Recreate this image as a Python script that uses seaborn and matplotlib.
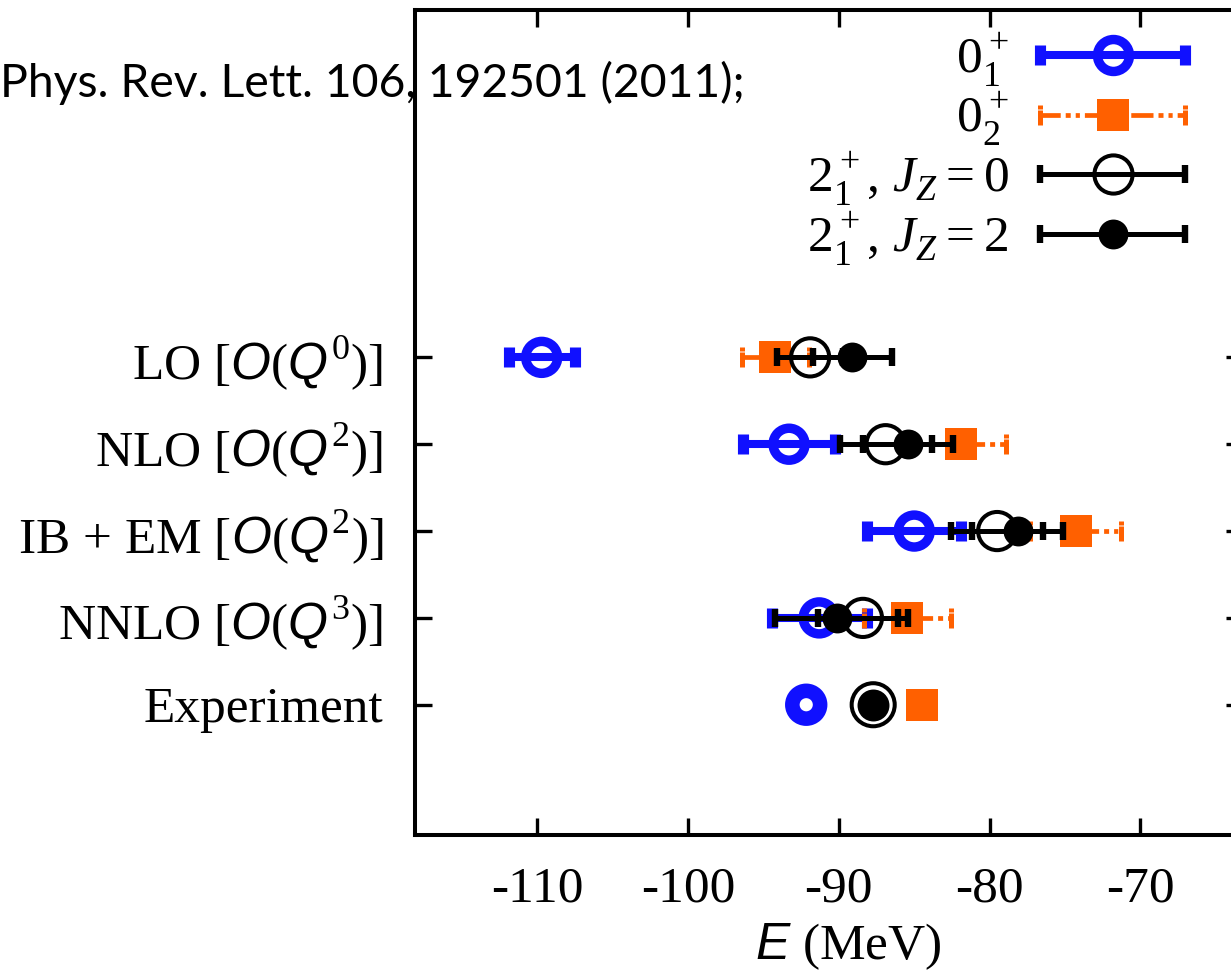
import matplotlib
matplotlib.use("Agg")
import numpy as np
import pandas as pd
import seaborn as sns
import matplotlib.pyplot as plt
from matplotlib.path import Path
from matplotlib.lines import Line2D
from matplotlib.legend_handler import HandlerBase

# ---------------- data ----------------
order_labels = ["LO [$O$($Q^0$)]", "NLO [$O$($Q^2$)]",
                "IB + EM [$O$($Q^2$)]", "NNLO [$O$($Q^3$)]"]
exp_label = "Experiment"
row_pos = [5, 4, 3, 2]
exp_pos = 1

e01 = [-109.7, -93.3, -85.0, -91.3]
e01_err = [2.2, 3.05, 3.1, 3.15]
e02 = [-94.2, -81.9, -74.3, -85.45]
e02_err = [2.2, 3.0, 3.0, 2.9]
e2j0 = [-91.9, -86.9, -79.5, -88.4]
e2j0_err = [2.2, 3.05, 3.05, 3.0]
e2j2 = [-89.1, -85.4, -78.15, -90.15]
e2j2_err = [2.6, 3.0, 3.0, 4.05]

exp_01 = [-92.16]
exp_02 = [-84.51]
exp_21 = [-87.72]

xticks = [-110, -100, -90, -80, -70]
xtick_labels = ["-110", "-100", "-90", "-80", "-70"]
legend_labels = [r"$0_1^+$", r"$0_2^+$",
                 r"$2_1^+$, $\mathcal{J}_\mathcal{Z} = 0$",
                 r"$2_1^+$, $\mathcal{J}_\mathcal{Z} = 2$"]
citation = "Phys. Rev. Lett. 106, 192501 (2011);"

# ---------------- style ----------------
sns.set_theme(style="ticks")
plt.rcParams["font.family"] = ["Liberation Serif", "DejaVu Serif"]
plt.rcParams["mathtext.fontset"] = "custom"
plt.rcParams["mathtext.rm"] = "Liberation Serif"
plt.rcParams["mathtext.it"] = "Liberation Sans:italic"
plt.rcParams["mathtext.cal"] = "Liberation Serif:italic"
plt.rcParams["mathtext.bf"] = "Liberation Serif:bold"
plt.rcParams["mathtext.sf"] = "Liberation Sans"
plt.rcParams["lines.scale_dashes"] = False
plt.rcParams["lines.solid_capstyle"] = "butt"

BLUE = "#1010ff"
ORANGE = "#ff6000"
BLACK = "#000000"
FS = 37

orange_dash = (0, (16, 3.6, 3.6, 3.6, 3.0, 3.6))
broken_cap = Path([(0, -1.0), (0, 0.45), (0, 0.62), (0, 1.0)],
                  [Path.MOVETO, Path.LINETO, Path.MOVETO, Path.LINETO])

styles = {
    "b": dict(color=BLUE, lw=5.8, ls="-", capsize=7.5, capthick=8.0, cap="|",
              marker="o", ms=23, mfc="none", mew=6.8),
    "o": dict(color=ORANGE, lw=3.4, ls=orange_dash, capsize=7.5, capthick=3.6,
              cap=broken_cap, marker="s", ms=23.5, mfc=ORANGE, mew=0),
    "k0": dict(color=BLACK, lw=3.6, ls="-", capsize=6.8, capthick=4.6, cap="|",
               marker="o", ms=27.5, mfc="none", mew=2.9),
    "k2": dict(color=BLACK, lw=3.6, ls="-", capsize=6.8, capthick=4.6, cap="|",
               marker="o", ms=21.5, mfc=BLACK, mew=0),
}

fig = plt.figure(figsize=(12.31, 9.72), dpi=100)
fig.patch.set_facecolor("white")
ax = fig.add_axes([415 / 1231, 1 - 835 / 972, (1243 - 415) / 1231, (835 - 10) / 972])
ax.set_facecolor("white")

z = 2
series = [("b", e01, e01_err), ("o", e02, e02_err),
          ("k0", e2j0, e2j0_err), ("k2", e2j2, e2j2_err)]
for key, vals, errs in series:
    st = styles[key]
    cont = ax.errorbar(vals, row_pos, xerr=errs, fmt="none", ecolor=st["color"],
                       elinewidth=st["lw"], capsize=st["capsize"],
                       capthick=st["capthick"], zorder=z)
    for c in cont[1]:
        c.set_marker(st["cap"])
        c.set_zorder(z)
    for bl in cont[2]:
        bl.set_linestyle(st["ls"])
        bl.set_capstyle("butt")
        bl.set_zorder(z)
    sns.scatterplot(x=vals, y=row_pos, ax=ax, marker=st["marker"], s=st["ms"] ** 2,
                    facecolor=st["mfc"], edgecolor=st["color"],
                    linewidth=st["mew"], zorder=z + 1, legend=False)
    z += 2

# experiment points
sns.scatterplot(x=exp_01, y=[exp_pos], ax=ax, marker="o", s=20 ** 2,
                facecolor="none", edgecolor=BLUE, linewidth=10.5, zorder=20, legend=False)
sns.scatterplot(x=exp_02, y=[exp_pos], ax=ax, marker="s", s=23.5 ** 2,
                facecolor=ORANGE, edgecolor=ORANGE, linewidth=0, zorder=21, legend=False)
sns.scatterplot(x=exp_21, y=[exp_pos], ax=ax, marker="o", s=31 ** 2,
                facecolor="none", edgecolor=BLACK, linewidth=2.9, zorder=22, legend=False)
sns.scatterplot(x=exp_21, y=[exp_pos], ax=ax, marker="o", s=23 ** 2,
                facecolor=BLACK, edgecolor=BLACK, linewidth=0, zorder=23, legend=False)

# axes
ax.set_xlim(-118.1, -63.2)
ax.set_ylim(-0.5, 9)
ax.set_xticks(xticks)
ax.set_xticklabels(xtick_labels)
ax.set_yticks(row_pos + [exp_pos])
ax.set_yticklabels(order_labels + [exp_label])
ax.tick_params(axis="both", which="major", direction="in", length=12, width=2.4,
               top=True, right=True, labelsize=FS, color=BLACK, labelcolor=BLACK)
ax.tick_params(axis="y", pad=23)
ax.tick_params(axis="x", pad=22)
for sp in ax.spines.values():
    sp.set_linewidth(2.9)
    sp.set_color(BLACK)
    sp.set_visible(True)
ax.grid(False)
ax.set_xlabel(r"$E$ (MeV)", fontsize=FS, color=BLACK)
ax.xaxis.set_label_coords((848 - 415) / (1243 - 415), -(972 - 835) / (835 - 10))
ax.xaxis.label.set_va("bottom")


# legend with horizontal error-bar handles
class HErrHandler(HandlerBase):
    def __init__(self, st):
        super().__init__()
        self.st = st

    def create_artists(self, legend, orig_handle, xdescent, ydescent, width,
                       height, fontsize, trans):
        st = self.st
        y = height / 2 - ydescent
        x0 = -xdescent
        x1 = width - xdescent
        line = Line2D([x0 + 3, x1 - 3], [y, y], color=st["color"], lw=st["lw"],
                      ls=st["ls"], solid_capstyle="butt")
        caps = Line2D([x0 + 4, x1 - 4], [y, y], ls="none", marker=st["cap"],
                      ms=2 * st["capsize"], mew=st["capthick"], color=st["color"])
        mk = Line2D([(x0 + x1) / 2], [y], ls="none", marker=st["marker"], ms=st["ms"],
                    mfc=st["mfc"], mec=st["color"], mew=st["mew"])
        arts = [line, caps, mk]
        for a in arts:
            a.set_transform(trans)
        return arts


proxies = [Line2D([], []) for _ in range(4)]
hmap = {p: HErrHandler(styles[k]) for p, k in zip(proxies, ["b", "o", "k0", "k2"])}
leg = ax.legend(proxies, legend_labels, handler_map=hmap, loc="upper right",
                bbox_to_anchor=(1191 / 1231, 1 - 30 / 972),
                bbox_transform=fig.transFigure, frameon=False, markerfirst=False,
                fontsize=FS, handlelength=3.05, handletextpad=0.5,
                labelspacing=0.0, borderpad=0, borderaxespad=0)
for t in leg.get_texts():
    t.set_color(BLACK)

fig.text(745 / 1231, 1 - 97 / 972, citation, ha="right", va="baseline",
         fontsize=33.4, color=BLACK, family=["Lato", "DejaVu Sans"], zorder=50)

fig.savefig("out.png", dpi=100, facecolor="white")
